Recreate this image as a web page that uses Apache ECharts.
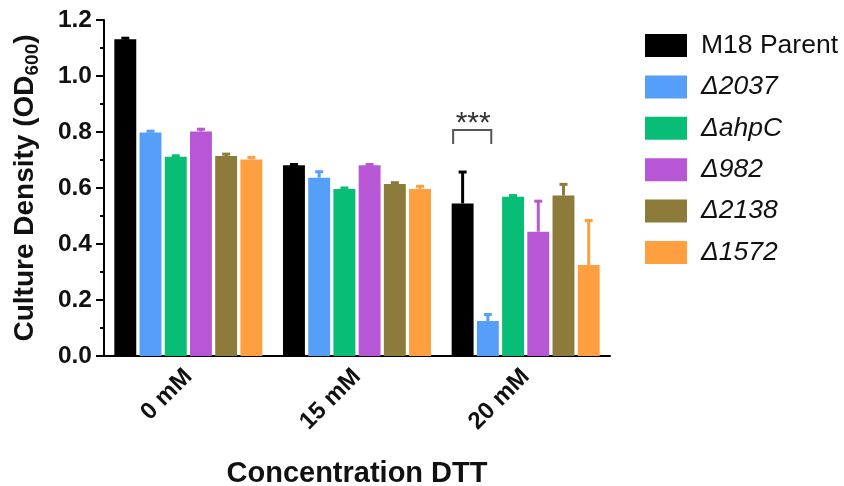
<!DOCTYPE html>
<html>
<head>
<meta charset="utf-8">
<script src="https://cdn.jsdelivr.net/npm/echarts@6/dist/echarts.min.js"></script>
<style>
html,body{margin:0;padding:0;background:#fff;}
#c{width:844px;height:486px;}
</style>
</head>
<body>
<div id="c"></div>
<script>
const categories = ['0 mM', '15 mM', '20 mM'];
const strainNames = ['M18 Parent', '\u03942037', '\u0394ahpC', '\u0394982', '\u03942138', '\u03941572'];
const parentMean = [1.131, 0.681, 0.545];
const parentErr = [0.004, 0.003, 0.112];
const d2037Mean = [0.798, 0.637, 0.125];
const d2037Err = [0.005, 0.021, 0.023];
const dahpCMean = [0.712, 0.596, 0.569];
const dahpCErr = [0.003, 0.004, 0.004];
const d982Mean = [0.802, 0.681, 0.444];
const d982Err = [0.008, 0.003, 0.109];
const d2138Mean = [0.714, 0.614, 0.573];
const d2138Err = [0.007, 0.005, 0.040];
const d1572Mean = [0.702, 0.596, 0.325];
const d1572Err = [0.007, 0.010, 0.159];
const yTicks = [0, 0.2, 0.4, 0.6, 0.8, 1.0, 1.2];
const sigLabel = '***';
const sigCategory = 2;
const sigTop = 0.807;
const sigBottom = 0.757;

const means = [parentMean, d2037Mean, dahpCMean, d982Mean, d2138Mean, d1572Mean];
const errs = [parentErr, d2037Err, dahpCErr, d982Err, d2138Err, d1572Err];
const colors = ['#000000', '#559FF8', '#08BD76', '#B857D6', '#8C7B3A', '#FF9F40'];
const FONT = "'Liberation Sans', Arial, sans-serif";
const BARW = 0.13, GAP = 0.15;

const series = [];
strainNames.forEach((n, s) => {
  series.push({
    name: n, type: 'bar', barWidth: (BARW * 100) + '%', barGap: (GAP * 100) + '%',
    data: means[s], itemStyle: { color: colors[s] }, z: 2
  });
});
strainNames.forEach((n, s) => {
  series.push({
    name: 'err' + s, type: 'custom', z: 3,
    data: means[s].map((m, i) => [i, m, m + errs[s][i]]),
    encode: { x: 0, y: [1, 2] },
    renderItem: (params, api) => {
      const band = api.size([1, 0])[0];
      const bw = band * BARW;
      const off = (s - 2.5) * bw * (1 + GAP);
      const p0 = api.coord([api.value(0), api.value(1)]);
      const p1 = api.coord([api.value(0), api.value(2)]);
      const x = p0[0] + off;
      const st = { stroke: colors[s], lineWidth: 3 };
      return { type: 'group', children: [
        { type: 'line', shape: { x1: x, y1: p0[1], x2: x, y2: p1[1] }, style: st },
        { type: 'line', shape: { x1: x - 4, y1: p1[1], x2: x + 4, y2: p1[1] }, style: st }
      ]};
    }
  });
});
series.push({
  name: 'sig', type: 'custom', z: 4,
  data: [[sigCategory, sigTop, sigBottom]],
  encode: { x: 0, y: [1, 2] },
  renderItem: (params, api) => {
    const band = api.size([1, 0])[0];
    const top = api.coord([api.value(0), api.value(1)]);
    const bot = api.coord([api.value(0), api.value(2)]);
    const xl = top[0] - band * 0.43, xr = top[0] - band * 0.204;
    return { type: 'group', children: [
      { type: 'polyline', shape: { points: [[xl, bot[1]], [xl, top[1]], [xr, top[1]], [xr, bot[1]]] },
        style: { stroke: '#555', lineWidth: 2, fill: null } },
      { type: 'text', x: (xl + xr) / 2 + 1, y: top[1] - 6,
        style: { text: sigLabel, font: '30px ' + FONT, fill: '#333', align: 'center', verticalAlign: 'middle' } }
    ]};
  }
});

const chart = echarts.init(document.getElementById('c'), null, { renderer: 'canvas' });
chart.setOption({
  animation: false,
  backgroundColor: '#fff',
  textStyle: { fontFamily: FONT },
  grid: { left: 104, right: 234, top: 20, bottom: 130, containLabel: false, outerBoundsMode: 'none' },
  legend: {
    orient: 'vertical', left: 640, top: 27,
    itemWidth: 42, itemHeight: 23, itemGap: 14.4,
    icon: 'rect',
    data: strainNames,
    formatter: n => n === 'M18 Parent' ? '{n|' + n + '}' : '{i|' + n + '}',
    textStyle: {
      color: '#111', fontSize: 26.5, fontFamily: FONT,
      rich: {
        n: { fontSize: 26.5, fontFamily: FONT, color: '#111', padding: [0, 0, 0, 9] },
        i: { fontSize: 26.5, fontFamily: FONT, fontStyle: 'italic', color: '#111', padding: [0, 0, 0, 9] }
      }
    }
  },
  xAxis: {
    type: 'category', data: categories,
    axisLine: { lineStyle: { color: '#000', width: 2 } },
    axisTick: { alignWithLabel: true, length: 8, lineStyle: { color: '#000', width: 2 } },
    axisLabel: { rotate: 45, margin: 17, color: '#111', fontSize: 24, fontWeight: 'bold', fontFamily: FONT },
    name: 'Concentration DTT', nameLocation: 'middle', nameGap: 103,
    nameTextStyle: { color: '#111', fontSize: 29, fontWeight: 'bold', fontFamily: FONT }
  },
  yAxis: {
    type: 'value', min: 0, max: 1.2, interval: 0.2,
    splitLine: { show: false },
    axisLine: { show: true, lineStyle: { color: '#000', width: 2 } },
    axisTick: { show: true, length: 8, lineStyle: { color: '#000', width: 2 } },
    minorTick: { show: true, splitNumber: 2, length: 4, lineStyle: { color: '#000', width: 2 } },
    axisLabel: { margin: 12, color: '#111', fontSize: 24.5, fontWeight: 'bold', fontFamily: FONT,
      formatter: v => { const t = yTicks.find(k => Math.abs(k - v) < 1e-9); return (t !== undefined ? t : v).toFixed(1); } },
    name: '{t|Culture Density (OD}{s|600}{t|)}', nameLocation: 'middle', nameRotate: 90, nameGap: 62,
    nameTextStyle: {
      rich: {
        t: { fontSize: 28, fontWeight: 'bold', fontFamily: FONT, color: '#111', lineHeight: 34 },
        s: { fontSize: 19, fontWeight: 'bold', fontFamily: FONT, color: '#111', lineHeight: 34, verticalAlign: 'bottom', padding: [13, 0, 0, 0] }
      }
    }
  },
  series: series
});
</script>
</body>
</html>
